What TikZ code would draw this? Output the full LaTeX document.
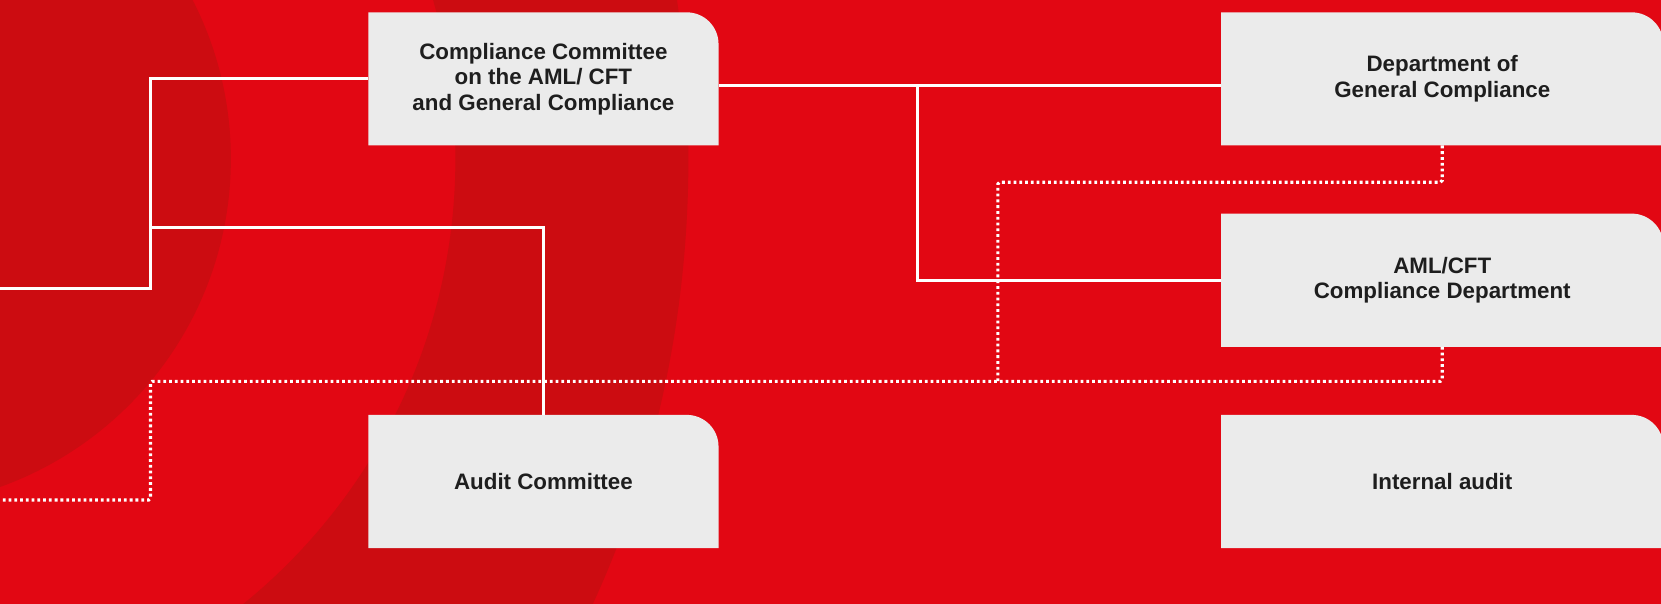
\documentclass[tikz,border=0pt]{standalone}
\usepackage{fontspec}
\setmainfont{Liberation Sans}
\usetikzlibrary{backgrounds,calc}
\definecolor{bgred}{RGB}{226,7,19}
\definecolor{darkred}{RGB}{204,12,17}
\definecolor{cardgray}{RGB}{235,235,235}
\definecolor{inkgray}{RGB}{30,30,30}
\begin{document}
\begin{tikzpicture}[x=0.02cm,y=0.02cm,
  card/.style={rectangle, inner sep=0pt, align=center, text=inkgray,
    font=\fontsize{12}{13.8}\selectfont\bfseries},
  leftcard/.style={card, minimum width=6.6cm, minimum height=2.5cm},
  rightcard/.style={card, minimum width=8.34cm, minimum height=2.5cm},
  conn/.style={draw=white, line width=1.6pt},
  dots/.style={draw=white, line width=1.7pt, dash pattern=on 1.5pt off 1.6pt, rounded corners=1pt}]
\useasboundingbox (0,0) rectangle (1568,-570);
\begin{scope}[on background layer]
  \fill[bgred] (0,0) rectangle (1568,-570);
  \begin{scope}
    \clip (0,0) rectangle (1568,-570);
    \fill[darkred] (-111,-150) circle[radius=6.58cm];
    \fill[darkred, even odd rule] (-111,-150) ellipse[x radius=15.22cm, y radius=17.78cm]
      (-111,-150) circle[radius=10.82cm];
  \end{scope}
\end{scope}

\node[leftcard] (cc) at (513,-74.5) {Compliance Committee\\on the AML/ CFT\\and General Compliance};
\node[rightcard] (dgc) at (1361.5,-74.5) {Department of\\General Compliance};
\node[rightcard] (aml) at (1361.5,-264.5) {AML/CFT\\Compliance Department};
\node[leftcard] (ac) at (513,-454.5) {Audit Committee};
\node[rightcard] (ia) at (1361.5,-454.5) {Internal audit};

\begin{scope}[on background layer]
  \foreach \n in {cc,ac,dgc,aml,ia} {
    \fill[cardgray] (\n.south west) -- (\n.north west) -- ($(\n.north east)+(-30,0)$)
      arc[start angle=90, end angle=0, radius=0.6cm] -- (\n.south east) -- cycle;
  }
\end{scope}

\coordinate (lin) at (0,-272);
\coordinate (spine) at (142,-215);
\draw[conn] (lin) -| (spine) |- (cc.west);
\draw[conn] (spine) -| (ac.north);
\coordinate (ccout) at ($(cc.east)+(0,-6.5)$);
\draw[conn] (ccout) -- (ccout -| dgc.west);
\coordinate (tap) at (866,-81);
\draw[conn] (tap) |- (aml.west);

\coordinate (d1) at (942,-172);
\coordinate (d2) at (942,-360);
\coordinate (d3) at (142,-360);
\coordinate (dout) at (0,-472);
\draw[dots] (dgc.south) |- (d1) -- (d2);
\draw[dots] (aml.south) |- (d3) |- (dout);
\end{tikzpicture}
\end{document}
